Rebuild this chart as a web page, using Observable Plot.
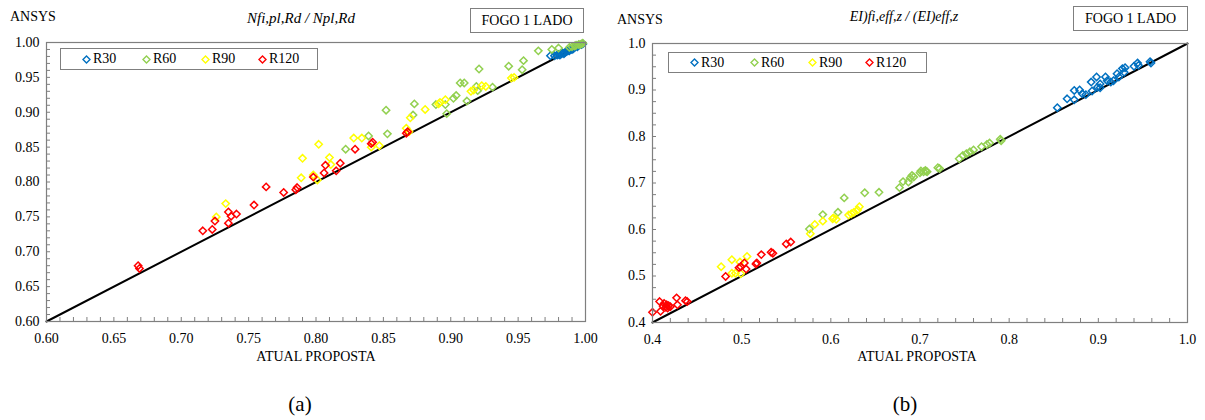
<!DOCTYPE html>
<html><head><meta charset="utf-8">
<script src="https://cdn.jsdelivr.net/npm/d3@7"></script>
<script src="https://cdn.jsdelivr.net/npm/@observablehq/plot@0.6"></script>
<style>
body{margin:0;background:#fff;font-family:"Liberation Serif",serif;}
#wrap{position:relative;width:1205px;height:420px;overflow:hidden;background:#fff}
.abs{position:absolute;white-space:nowrap;color:#000;line-height:1}
.c{transform:translate(-50%,-50%)}
.box{position:absolute;border:1px solid #7f7f7f;box-sizing:border-box;background:#fff}
.svgpos{position:absolute;top:0}
</style></head><body><div id="wrap"></div>
<script>
// ---------- data ----------
const seriesNames = ["R30", "R60", "R90", "R120"];
const seriesColors = ["#0070C0", "#92D050", "#FFFF00", "#FF0000"];

// chart (a): Nfi,pl,Rd / Npl,Rd  -> [ATUAL PROPOSTA, ANSYS]
const aR30 = [[0.974,0.981],[0.977,0.981],[0.979,0.982],[0.980,0.983],[0.981,0.982],[0.982,0.984],[0.983,0.985],[0.984,0.984],[0.985,0.986],[0.986,0.987],[0.987,0.988],[0.988,0.988],[0.989,0.990],[0.990,0.990],[0.991,0.991],[0.992,0.993],[0.994,0.994],[0.995,0.996],[0.997,0.997],[0.998,0.998]];
const aR60 = [[0.822,0.847],[0.839,0.866],[0.853,0.869],[0.852,0.903],[0.872,0.896],[0.873,0.912],[0.889,0.911],[0.896,0.911],[0.897,0.898],[0.902,0.920],[0.904,0.924],[0.907,0.942],[0.910,0.942],[0.912,0.916],[0.919,0.937],[0.920,0.931],[0.921,0.962],[0.931,0.936],[0.943,0.966],[0.953,0.961],[0.954,0.974],[0.965,0.988],[0.975,0.990],[0.980,0.992],[0.988,0.993],[0.990,0.994],[0.992,0.995],[0.993,0.996],[0.995,0.997],[0.996,0.997],[0.997,0.998],[0.998,0.999]];
const aR90 = [[0.726,0.750],[0.733,0.769],[0.789,0.806],[0.790,0.834],[0.798,0.810],[0.801,0.803],[0.802,0.854],[0.810,0.835],[0.811,0.825],[0.828,0.863],[0.834,0.863],[0.841,0.850],[0.847,0.852],[0.867,0.877],[0.869,0.872],[0.870,0.892],[0.881,0.904],[0.891,0.912],[0.892,0.914],[0.896,0.918],[0.915,0.930],[0.917,0.932],[0.923,0.938],[0.926,0.937],[0.945,0.949],[0.947,0.950]];
const aR120 = [[0.668,0.680],[0.669,0.676],[0.716,0.730],[0.723,0.732],[0.725,0.744],[0.735,0.757],[0.735,0.741],[0.737,0.751],[0.741,0.754],[0.754,0.767],[0.763,0.793],[0.776,0.785],[0.785,0.789],[0.786,0.792],[0.798,0.807],[0.806,0.813],[0.807,0.824],[0.815,0.816],[0.818,0.827],[0.829,0.847],[0.841,0.855],[0.842,0.857],[0.867,0.870],[0.868,0.872]];
const aDiagonal = [[0.60,0.60],[1.00,1.00]];
const aTicks = [0.60,0.65,0.70,0.75,0.80,0.85,0.90,0.95,1.00];

// chart (b): EI)fi,eff,z / (EI)eff,z
const bR30 = [[0.854,0.862],[0.865,0.881],[0.873,0.899],[0.873,0.879],[0.879,0.900],[0.882,0.892],[0.886,0.890],[0.892,0.917],[0.893,0.898],[0.898,0.928],[0.899,0.906],[0.902,0.913],[0.902,0.905],[0.908,0.928],[0.910,0.920],[0.914,0.917],[0.917,0.920],[0.921,0.935],[0.923,0.928],[0.927,0.946],[0.930,0.948],[0.929,0.938],[0.940,0.951],[0.944,0.958],[0.945,0.953],[0.958,0.961],[0.959,0.958]];
const bR60 = [[0.576,0.601],[0.591,0.632],[0.608,0.637],[0.615,0.668],[0.638,0.679],[0.654,0.680],[0.677,0.690],[0.681,0.703],[0.687,0.702],[0.689,0.711],[0.691,0.716],[0.693,0.713],[0.700,0.722],[0.701,0.726],[0.704,0.724],[0.706,0.727],[0.707,0.725],[0.708,0.724],[0.720,0.733],[0.722,0.731],[0.744,0.752],[0.748,0.759],[0.752,0.763],[0.756,0.767],[0.760,0.771],[0.769,0.778],[0.775,0.783],[0.778,0.786],[0.790,0.794],[0.791,0.791]];
const bR90 = [[0.477,0.520],[0.489,0.535],[0.489,0.506],[0.493,0.506],[0.498,0.530],[0.499,0.505],[0.506,0.542],[0.577,0.591],[0.582,0.611],[0.591,0.618],[0.602,0.623],[0.603,0.625],[0.606,0.622],[0.620,0.631],[0.623,0.634],[0.626,0.637],[0.630,0.642],[0.632,0.649]];
const bR120 = [[0.400,0.422],[0.408,0.445],[0.409,0.424],[0.412,0.435],[0.413,0.441],[0.415,0.433],[0.416,0.438],[0.417,0.431],[0.418,0.436],[0.420,0.434],[0.427,0.453],[0.428,0.438],[0.437,0.447],[0.439,0.445],[0.482,0.499],[0.497,0.518],[0.499,0.520],[0.503,0.528],[0.505,0.515],[0.516,0.526],[0.517,0.528],[0.522,0.546],[0.533,0.551],[0.535,0.549],[0.550,0.569],[0.555,0.573]];
const bDiagonal = [[0.4,0.4],[1.0,1.0]];
const bTicks = [0.4,0.5,0.6,0.7,0.8,0.9,1.0];

// ---------- drawing ----------
const wrap = document.getElementById("wrap");
function el(html){const d=document.createElement("div");d.innerHTML=html;const n=d.firstElementChild;wrap.appendChild(n);return n;}

function chart(o){
  const H = 420, pw = o.w - o.ml - o.mr, ph = H - o.mt - o.mb;
  const data = o.series.flatMap((pts,i)=>pts.map(([x,y])=>({x,y,s:seriesNames[i]})));
  const dom = [o.ticks[0], o.ticks[o.ticks.length-1]];
  const svg = Plot.plot({
    width:o.w, height:H, marginLeft:o.ml, marginRight:o.mr, marginTop:o.mt, marginBottom:o.mb,
    style:{fontFamily:"'Liberation Serif', serif", fontSize:"14px", color:"#000", background:"transparent", overflow:"visible"},
    x:{domain:dom}, y:{domain:dom},
    color:{domain:seriesNames, range:seriesColors},
    marks:[
      Plot.line(o.diag,{x:d=>d[0], y:d=>d[1], stroke:"#000", strokeWidth:2}),
      Plot.dot(data,{x:"x", y:"y", stroke:"s", symbol:"diamond2", r:3.3, strokeWidth:1.5, fill:"none"}),
      Plot.tickX(o.xMinor,{x:d=>d, insetTop:ph-4, stroke:"#7f7f7f"}),
      Plot.tickY(o.yMinor,{y:d=>d, insetRight:pw-4, stroke:"#7f7f7f"}),
      Plot.axisX({ticks:o.ticks, tickSize:0, tickPadding:12, tickFormat:o.fmt, label:null}),
      Plot.axisY({ticks:o.ticks, tickSize:0, tickPadding:7, tickFormat:o.fmt, label:null}),
      Plot.frame({stroke:"#7f7f7f", strokeWidth:1.2})
    ]
  });
  svg.classList.add("svgpos");
  svg.style.left = o.left + "px";
  wrap.appendChild(svg);
}

chart({left:0, w:600, ml:46, mr:15, mt:42, mb:99, ticks:aTicks, fmt:d3.format(".2f"),
  xMinor:d3.range(0.60,1.0001,0.01), yMinor:d3.range(0.60,1.0001,0.01),
  series:[aR30,aR60,aR90,aR120], diag:aDiagonal});
chart({left:600, w:605, ml:52, mr:18, mt:43, mb:98, ticks:bTicks, fmt:d3.format(".1f"),
  xMinor:d3.range(0.4,1.0001,0.02), yMinor:d3.range(0.4,1.0001,0.025),
  series:[bR30,bR60,bR90,bR120], diag:bDiagonal});

// texts
function diamond(color){return `<svg width="9" height="9" style="vertical-align:middle"><polygon points="4.5,1 8,4.5 4.5,8 1,4.5" fill="none" stroke="${color}" stroke-width="1.4"/></svg>`;}
function legend(x,y,w,h,dx,tx){
  el(`<div class="box" style="left:${x}px;top:${y}px;width:${w}px;height:${h}px"></div>`);
  seriesNames.forEach((n,i)=>{
    el(`<div class="abs" style="left:${dx[i]-4.5}px;top:${y+h/2-4.5}px;line-height:0">${diamond(seriesColors[i])}</div>`);
    el(`<div class="abs" style="left:${tx[i]}px;top:${y+h/2}px;transform:translateY(-50%);font-size:14px">${n}</div>`);
  });
}
legend(60,48,258,22,[86,146,205,262],[93,153,212,269]);
legend(668,52,259,21,[694,754,812,869],[701,761,819,876]);

el(`<div class="box" style="left:470px;top:8px;width:114px;height:25px"></div>`);
el(`<div class="abs c" style="left:527px;top:20.5px;font-size:14px">FOGO 1 LADO</div>`);
el(`<div class="box" style="left:1073px;top:6px;width:115px;height:25px"></div>`);
el(`<div class="abs c" style="left:1130.5px;top:18.5px;font-size:14px">FOGO 1 LADO</div>`);

el(`<div class="abs" style="left:10px;top:17px;transform:translateY(-50%);font-size:14px">ANSYS</div>`);
el(`<div class="abs c" style="left:301px;top:18px;font-size:15px;font-style:italic">Nfi,pl,Rd / Npl,Rd</div>`);
el(`<div class="abs" style="left:617px;top:20px;transform:translateY(-50%);font-size:14px">ANSYS</div>`);
el(`<div class="abs c" style="left:904px;top:17px;font-size:14px;font-style:italic">EI)fi,eff,z / (EI)eff,z</div>`);

el(`<div class="abs c" style="left:316px;top:357px;font-size:14px">ATUAL PROPOSTA</div>`);
el(`<div class="abs c" style="left:917px;top:357px;font-size:14px">ATUAL PROPOSTA</div>`);
el(`<div class="abs c" style="left:300px;top:404px;font-size:21px">(a)</div>`);
el(`<div class="abs c" style="left:905px;top:404px;font-size:21px">(b)</div>`);
</script></body></html>
